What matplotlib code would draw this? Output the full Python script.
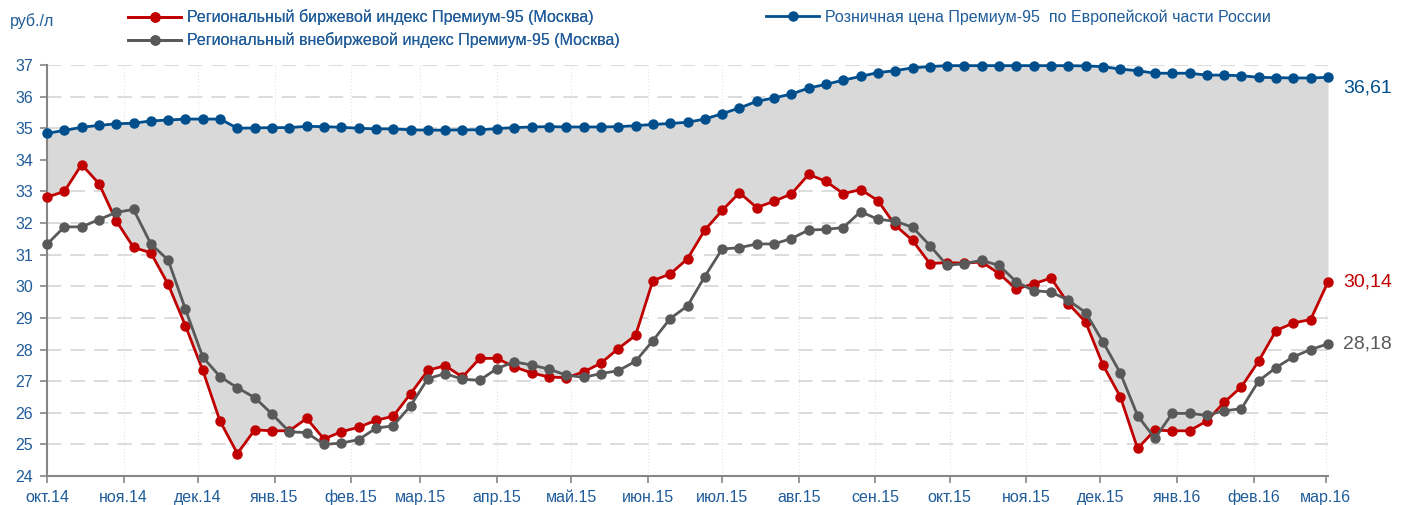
import matplotlib
matplotlib.use("Agg")
import matplotlib.pyplot as plt
import pandas as pd

# Weekly observation dates
weeks = pd.date_range("2014-10-01", periods=75, freq="7D")

# Regional exchange index, Premium-95 (Moscow), rub/l
exchange = [
    32.82, 33.00, 33.85, 33.25, 32.07, 31.23, 31.06, 30.06, 28.75, 27.34, 25.73, 24.71, 25.46,
    25.43, 25.43, 25.82, 25.17, 25.40, 25.54, 25.76, 25.89, 26.60, 27.34, 27.49, 27.13,
    27.72, 27.72, 27.45, 27.26, 27.13, 27.11, 27.29, 27.57, 28.03, 28.45, 30.18, 30.39,
    30.87, 31.78, 32.40, 32.96, 32.49, 32.69, 32.92, 33.54, 33.32, 32.93, 33.06, 32.71, 31.93,
    31.45, 30.72, 30.75, 30.73, 30.77, 30.40, 29.91, 30.08, 30.26, 29.45, 28.87, 27.51,
    26.51, 24.87, 25.45, 25.43, 25.43, 25.74, 26.33, 26.82, 27.64, 28.60, 28.84, 28.95, 30.14,
]

# Regional over-the-counter index, Premium-95 (Moscow), rub/l
otc = [
    31.33, 31.88, 31.88, 32.11, 32.34, 32.43, 31.34, 30.83, 29.27, 27.76, 27.14, 26.79, 26.48,
    25.96, 25.40, 25.37, 25.00, 25.04, 25.15, 25.51, 25.59, 26.22, 27.08, 27.24, 27.06,
    27.03, 27.40, 27.61, 27.51, 27.38, 27.19, 27.12, 27.24, 27.33, 27.63, 28.28, 28.98,
    29.38, 30.31, 31.18, 31.22, 31.34, 31.34, 31.51, 31.78, 31.80, 31.86, 32.36, 32.12, 32.06,
    31.87, 31.29, 30.66, 30.72, 30.82, 30.66, 30.14, 29.86, 29.82, 29.56, 29.17, 28.24,
    27.26, 25.91, 25.19, 25.98, 25.98, 25.92, 26.06, 26.13, 27.01, 27.43, 27.77, 28.00, 28.18,
]

# Retail price, Premium-95, European part of Russia, rub/l
retail = [
    34.84, 34.93, 35.03, 35.09, 35.14, 35.16, 35.23, 35.26, 35.29, 35.29, 35.29, 35.00, 35.01,
    35.02, 35.02, 35.06, 35.05, 35.03, 35.00, 34.98, 34.98, 34.95, 34.94, 34.94, 34.95,
    34.95, 34.99, 35.02, 35.04, 35.05, 35.04, 35.04, 35.04, 35.05, 35.08, 35.12, 35.15,
    35.19, 35.29, 35.46, 35.64, 35.85, 35.96, 36.08, 36.27, 36.39, 36.52, 36.64, 36.76, 36.82,
    36.91, 36.95, 36.98, 36.98, 36.98, 36.98, 36.98, 36.98, 36.98, 36.98, 36.97, 36.95,
    36.87, 36.82, 36.74, 36.74, 36.74, 36.68, 36.68, 36.66, 36.61, 36.60, 36.59, 36.59, 36.61,
]

month_starts = pd.date_range("2014-10-01", "2016-03-01", freq="MS")
month_labels = [
    "окт.14", "ноя.14", "дек.14", "янв.15", "фев.15", "мар.15", "апр.15", "май.15", "июн.15",
    "июл.15", "авг.15", "сен.15", "окт.15", "ноя.15", "дек.15", "янв.16", "фев.16", "мар.16",
]
y_ticks = list(range(24, 38))

label_exchange = "Региональный биржевой индекс Премиум-95 (Москва)"
label_otc = "Региональный внебиржевой индекс Премиум-95 (Москва)"
label_retail = "Розничная цена Премиум-95  по Европейской части России"

RED = "#c00000"
GRAY = "#595959"
BLUE = "#004f8c"
TXT = "#1f5c99"
FILL = "#d9d9d9"
FS = 11.5

plt.rcParams["font.family"] = ["Liberation Sans", "DejaVu Sans"]

fig = plt.figure(figsize=(14.06, 5.05), dpi=100)
ax = fig.add_axes([47 / 1406, 29 / 505, 1281 / 1406, 411 / 505])

# Spread between retail price and exchange index
ax.fill_between(weeks, exchange, retail, color=FILL, linewidth=0, zorder=1)

line_kw = dict(linewidth=2.0, marker="o", markersize=6.5, clip_on=False, zorder=3)
l_red, = ax.plot(weeks, exchange, color=RED, label=label_exchange, **line_kw)
l_gray, = ax.plot(weeks, otc, color=GRAY, label=label_otc, **line_kw)
l_blue, = ax.plot(weeks, retail, color=BLUE, label=label_retail, **line_kw)

ax.set_xlim(weeks[0], weeks[-1])
ax.set_ylim(24, 37)
ax.set_yticks(y_ticks)
ax.set_xticks(month_starts)
ax.set_xticklabels(month_labels)

# Grid: dashed horizontal, dotted vertical, under the fill
for v in y_ticks[1:]:
    ax.axhline(v, color="#d9d9d9", linewidth=1.3, dashes=(8, 5), zorder=0)
for d in month_starts[1:]:
    ax.axvline(d, color="#e3e3e3", linewidth=0.8, linestyle=(0, (1, 2)), zorder=0)

for side in ("top", "right"):
    ax.spines[side].set_visible(False)
for side in ("left", "bottom"):
    ax.spines[side].set_color("#868686")
    ax.spines[side].set_linewidth(1.5)
ax.tick_params(axis="both", colors="#868686", labelcolor=TXT, labelsize=FS,
               length=5, width=1.2)
ax.tick_params(axis="x", pad=5)
ax.tick_params(axis="y", pad=5)

# End-of-series value labels
ax.annotate("36,61", (weeks[-1], retail[-1]), xytext=(11, -8), textcoords="offset points",
            color=BLUE, fontsize=14, va="center", ha="left", annotation_clip=False)
ax.annotate("30,14", (weeks[-1], exchange[-1]), xytext=(11, 0), textcoords="offset points",
            color=RED, fontsize=14, va="center", ha="left", annotation_clip=False)
ax.annotate("28,18", (weeks[-1], otc[-1]), xytext=(11, 0), textcoords="offset points",
            color=GRAY, fontsize=14, va="center", ha="left", annotation_clip=False)

fig.text(10 / 1406, 1 - 21 / 505, "руб./л", color=TXT, fontsize=FS, va="center", ha="left")

leg1 = fig.legend(handles=[l_red, l_gray], loc="upper left",
                  bbox_to_anchor=(122 / 1406, 1 - 3 / 505), frameon=False,
                  fontsize=FS, handlelength=3.3, handletextpad=0.4,
                  labelspacing=0.45, labelcolor=TXT, borderaxespad=0)
leg2 = fig.legend(handles=[l_blue], loc="upper left",
                  bbox_to_anchor=(760 / 1406, 1 - 3 / 505), frameon=False,
                  fontsize=FS, handlelength=3.3, handletextpad=0.4,
                  labelcolor=TXT, borderaxespad=0)
fig.add_artist(leg1)

fig.savefig("out.png", dpi=100)
